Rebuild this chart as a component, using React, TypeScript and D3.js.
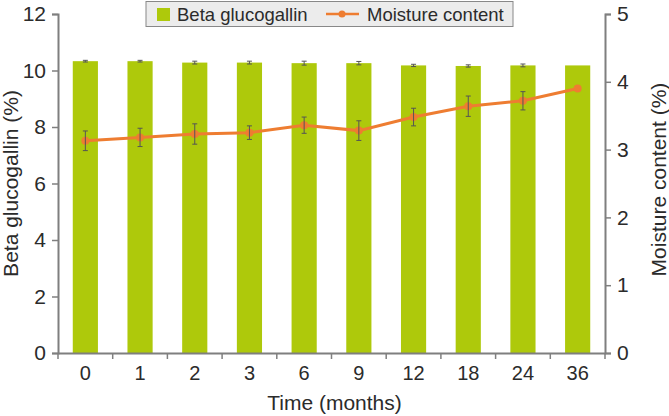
import { useRef, useEffect } from 'react';
import * as d3 from 'd3';

// Data
const months = ['0', '1', '2', '3', '6', '9', '12', '18', '24', '36'];
const betaValues = [10.33, 10.33, 10.28, 10.28, 10.26, 10.26, 10.18, 10.16, 10.18, 10.18];
const betaErrors = [0.03, 0.03, 0.05, 0.05, 0.07, 0.06, 0.04, 0.04, 0.05, 0];
const moistureValues = [3.13, 3.18, 3.23, 3.25, 3.36, 3.28, 3.48, 3.64, 3.72, 3.9];
const moistureErrors = [0.145, 0.135, 0.15, 0.1, 0.12, 0.145, 0.13, 0.15, 0.135, 0];
const leftTicks = [0, 2, 4, 6, 8, 10, 12];
const rightTicks = [0, 1, 2, 3, 4, 5];

function App() {
  const ref = useRef<SVGSVGElement>(null);
  const width = 669;
  const height = 416;

  useEffect(() => {
    const svg = d3.select(ref.current);
    svg.selectAll('*').remove();

    const left = 58;
    const right = 605;
    const top = 14;
    const bottom = 353;

    const font = 'Liberation Sans, Arial, sans-serif';
    const textColor = '#2b2b2b';
    const axisColor = '#7f7f7f';
    const barColor = '#aec90b';
    const lineColor = '#ee7d31';
    const errColor = '#555555';

    const x = d3.scaleBand().domain(months).range([left, right]).paddingInner(0.54).paddingOuter(0.27);
    const yL = d3.scaleLinear().domain([0, 12]).range([bottom, top]);
    const yR = d3.scaleLinear().domain([0, 5]).range([bottom, top]);

    const rows = months.map((m, i) => ({
      m, beta: betaValues[i], be: betaErrors[i], moist: moistureValues[i], me: moistureErrors[i],
    }));

    // Bars
    svg.append('g')
      .selectAll('rect')
      .data(rows)
      .join('rect')
        .attr('x', d => x(d.m)!)
        .attr('y', d => yL(d.beta))
        .attr('width', x.bandwidth())
        .attr('height', d => yL(0) - yL(d.beta))
        .attr('fill', barColor);

    // Error bars helper
    const drawErrors = (data: typeof rows, val: (d: any) => number, err: (d: any) => number, scale: d3.ScaleLinear<number, number>) => {
      const g = svg.append('g').attr('stroke', errColor).attr('stroke-width', 1);
      const withErr = data.filter(d => err(d) > 0);
      const cx = (d: any) => x(d.m)! + x.bandwidth() / 2;
      g.selectAll('line.v').data(withErr).join('line')
        .attr('x1', cx).attr('x2', cx)
        .attr('y1', d => scale(val(d) - err(d))).attr('y2', d => scale(val(d) + err(d)));
      g.selectAll('line.t').data(withErr).join('line')
        .attr('x1', d => cx(d) - 2.5).attr('x2', d => cx(d) + 2.5)
        .attr('y1', d => scale(val(d) + err(d))).attr('y2', d => scale(val(d) + err(d)));
      g.selectAll('line.b').data(withErr).join('line')
        .attr('x1', d => cx(d) - 2.5).attr('x2', d => cx(d) + 2.5)
        .attr('y1', d => scale(val(d) - err(d))).attr('y2', d => scale(val(d) - err(d)));
    };

    drawErrors(rows, d => d.beta, d => d.be, yL);

    // Moisture line
    const line = d3.line<typeof rows[0]>()
      .x(d => x(d.m)! + x.bandwidth() / 2)
      .y(d => yR(d.moist));
    svg.append('path')
      .datum(rows)
      .attr('d', line)
      .attr('fill', 'none')
      .attr('stroke', lineColor)
      .attr('stroke-width', 3);
    svg.append('g')
      .selectAll('circle')
      .data(rows)
      .join('circle')
        .attr('cx', d => x(d.m)! + x.bandwidth() / 2)
        .attr('cy', d => yR(d.moist))
        .attr('r', 4)
        .attr('fill', lineColor);

    drawErrors(rows, d => d.moist, d => d.me, yR);

    // Axes
    const styleAxis = (g: any) => {
      g.select('.domain').attr('stroke', axisColor).attr('stroke-width', 2);
      g.selectAll('.tick line').attr('stroke', axisColor).attr('stroke-width', 1.5);
      g.selectAll('.tick text').attr('fill', textColor).attr('font-family', font).attr('font-size', 21);
    };

    svg.append('g')
      .attr('transform', `translate(${left},0)`)
      .call(d3.axisLeft(yL).tickValues(leftTicks).tickSizeOuter(0).tickSize(6).tickPadding(6))
      .call(styleAxis);

    svg.append('g')
      .attr('transform', `translate(${right},0)`)
      .call(d3.axisRight(yR).tickValues(rightTicks).tickFormat(d3.format('d')).tickSizeOuter(0).tickSize(6).tickPadding(6))
      .call(styleAxis);

    const xAxis = svg.append('g')
      .attr('transform', `translate(0,${bottom})`)
      .call(d3.axisBottom(x).tickSize(0).tickPadding(13))
      .call(styleAxis);
    xAxis.selectAll('.tick text').attr('font-size', 20);
    // ticks at band boundaries
    const step = x.step();
    const boundaries = d3.range(months.length + 1).map(i => left + i * step);
    xAxis.selectAll('line.bound').data(boundaries).join('line')
      .attr('class', 'bound')
      .attr('x1', d => d).attr('x2', d => d)
      .attr('y1', 0).attr('y2', 6)
      .attr('stroke', axisColor).attr('stroke-width', 1.5);

    // Axis titles
    svg.append('text')
      .attr('transform', `translate(18,${(top + bottom) / 2}) rotate(-90)`)
      .attr('text-anchor', 'middle')
      .attr('font-family', font).attr('font-size', 21).attr('fill', textColor)
      .text('Beta glucogallin (%)');

    svg.append('text')
      .attr('transform', `translate(666,${(top + bottom) / 2 - 4}) rotate(-90)`)
      .attr('text-anchor', 'middle')
      .attr('font-family', font).attr('font-size', 21).attr('fill', textColor)
      .text('Moisture content (%)');

    svg.append('text')
      .attr('x', (left + right) / 2 + 3)
      .attr('y', 410)
      .attr('text-anchor', 'middle')
      .attr('font-family', font).attr('font-size', 21).attr('fill', textColor)
      .text('Time (months)');

    // Legend
    const lg = svg.append('g');
    lg.append('rect')
      .attr('x', 146).attr('y', 1.5).attr('width', 367).attr('height', 25)
      .attr('fill', '#ececec').attr('stroke', '#888888').attr('stroke-width', 1);
    lg.append('rect')
      .attr('x', 157).attr('y', 8).attr('width', 13).attr('height', 13)
      .attr('fill', barColor);
    lg.append('text')
      .attr('x', 177).attr('y', 21)
      .attr('font-family', font).attr('font-size', 18.5).attr('fill', textColor)
      .text('Beta glucogallin');
    lg.append('line')
      .attr('x1', 326).attr('x2', 359).attr('y1', 14).attr('y2', 14)
      .attr('stroke', lineColor).attr('stroke-width', 2.5);
    lg.append('circle')
      .attr('cx', 342).attr('cy', 14).attr('r', 3.5).attr('fill', lineColor);
    lg.append('text')
      .attr('x', 367).attr('y', 21)
      .attr('font-family', font).attr('font-size', 18.5).attr('fill', textColor)
      .text('Moisture content');
  }, []);

  return (
    <svg
      width={width}
      height={height}
      ref={ref}
      style={{ position: 'absolute', left: 0, top: 0 }}
    />
  );
}

export default App;
